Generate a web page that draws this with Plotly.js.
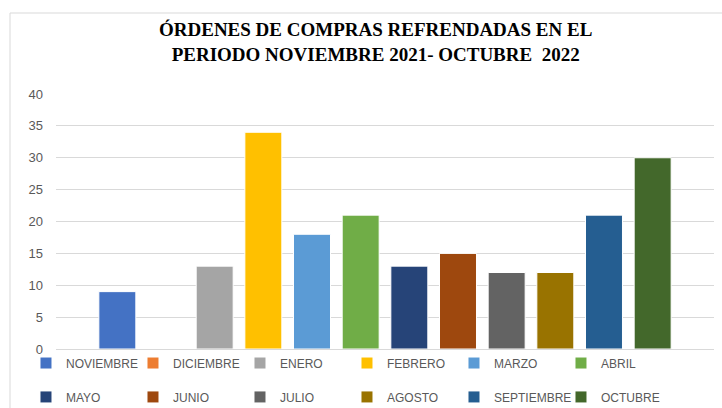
<!DOCTYPE html>
<html>
<head>
<meta charset="utf-8">
<script src="https://cdn.plot.ly/plotly-3.0.1.min.js"></script>
<style>html,body{margin:0;padding:0;background:#fff;}#chart{width:722px;height:408px;}</style>
</head>
<body>
<div id="chart"></div>
<script>
const months = ["NOVIEMBRE","DICIEMBRE","ENERO","FEBRERO","MARZO","ABRIL","MAYO","JUNIO","JULIO","AGOSTO","SEPTIEMBRE","OCTUBRE"];
const values = [9, 0, 13, 34, 18, 21, 13, 15, 12, 12, 21, 30];
const colors = ["#4472C4","#ED7D31","#A5A5A5","#FFC000","#5B9BD5","#70AD47","#264478","#9E480E","#636363","#997300","#255E91","#43682B"];
const category = ["Total"];
const yTicks = [0,5,10,15,20,25,30,35,40];
const titleLines = ["ÓRDENES DE COMPRAS REFRENDADAS EN EL", "PERIODO NOVIEMBRE 2021- OCTUBRE  2022"];

const traces = months.map((m, i) => ({
  type: "bar",
  name: m,
  x: category,
  y: [values[i]],
  marker: {color: colors[i], line: {color: "#ffffff", width: 1}},
  legend: i < 6 ? "legend" : "legend2",
  hoverinfo: "name+y"
}));

const legendCommon = {
  orientation: "h",
  entrywidth: 62,
  entrywidthmode: "pixels",
  font: {family: "Liberation Sans, Arial, sans-serif", size: 12, color: "#595959"},
  xanchor: "left",
  yanchor: "middle",
  bgcolor: "rgba(0,0,0,0)",
  itemwidth: 30
};

const layout = {
  width: 722,
  height: 408,
  margin: {l: 56, r: 8, t: 94, b: 59, autoexpand: false},
  paper_bgcolor: "#ffffff",
  plot_bgcolor: "#ffffff",
  barmode: "group",
  bargap: 0.1125,
  bargroupgap: 0.24,
  xaxis: {showticklabels: false, showgrid: false, zeroline: false, showline: true, linecolor: "#d9d9d9", linewidth: 1, ticks: ""},
  yaxis: {
    range: [0, 40], tickvals: yTicks, ticktext: yTicks.map(String),
    showgrid: true, gridcolor: "#d9d9d9", gridwidth: 1, zeroline: false, showline: false,
    tickfont: {family: "Liberation Sans, Arial, sans-serif", size: 13, color: "#595959"},
    ticks: "", ticklen: 0, ticklabelstandoff: 12, automargin: false
  },
  legend: Object.assign({}, legendCommon, {x: -0.0456, y: -0.055}),
  legend2: Object.assign({}, legendCommon, {x: -0.0456, y: -0.188}),
  annotations: [{
    text: "<b>" + titleLines.join("<br>") + "</b>",
    xref: "paper", yref: "paper",
    x: (375 - 56) / 658, xanchor: "center",
    y: (349 - 42) / 255, yanchor: "middle",
    showarrow: false,
    font: {family: "Liberation Serif, Times New Roman, serif", size: 19, color: "#000000"}
  }],
  shapes: [{
    type: "rect", xref: "paper", yref: "paper",
    x0: -0.0699, x1: 1.03, y0: -0.3, y1: (349 - 13) / 255,
    line: {color: "#d9d9d9", width: 1}, fillcolor: "rgba(0,0,0,0)", layer: "below"
  }],
  showlegend: true
};

Plotly.newPlot("chart", traces, layout, {displayModeBar: false, staticPlot: true});
</script>
</body>
</html>
